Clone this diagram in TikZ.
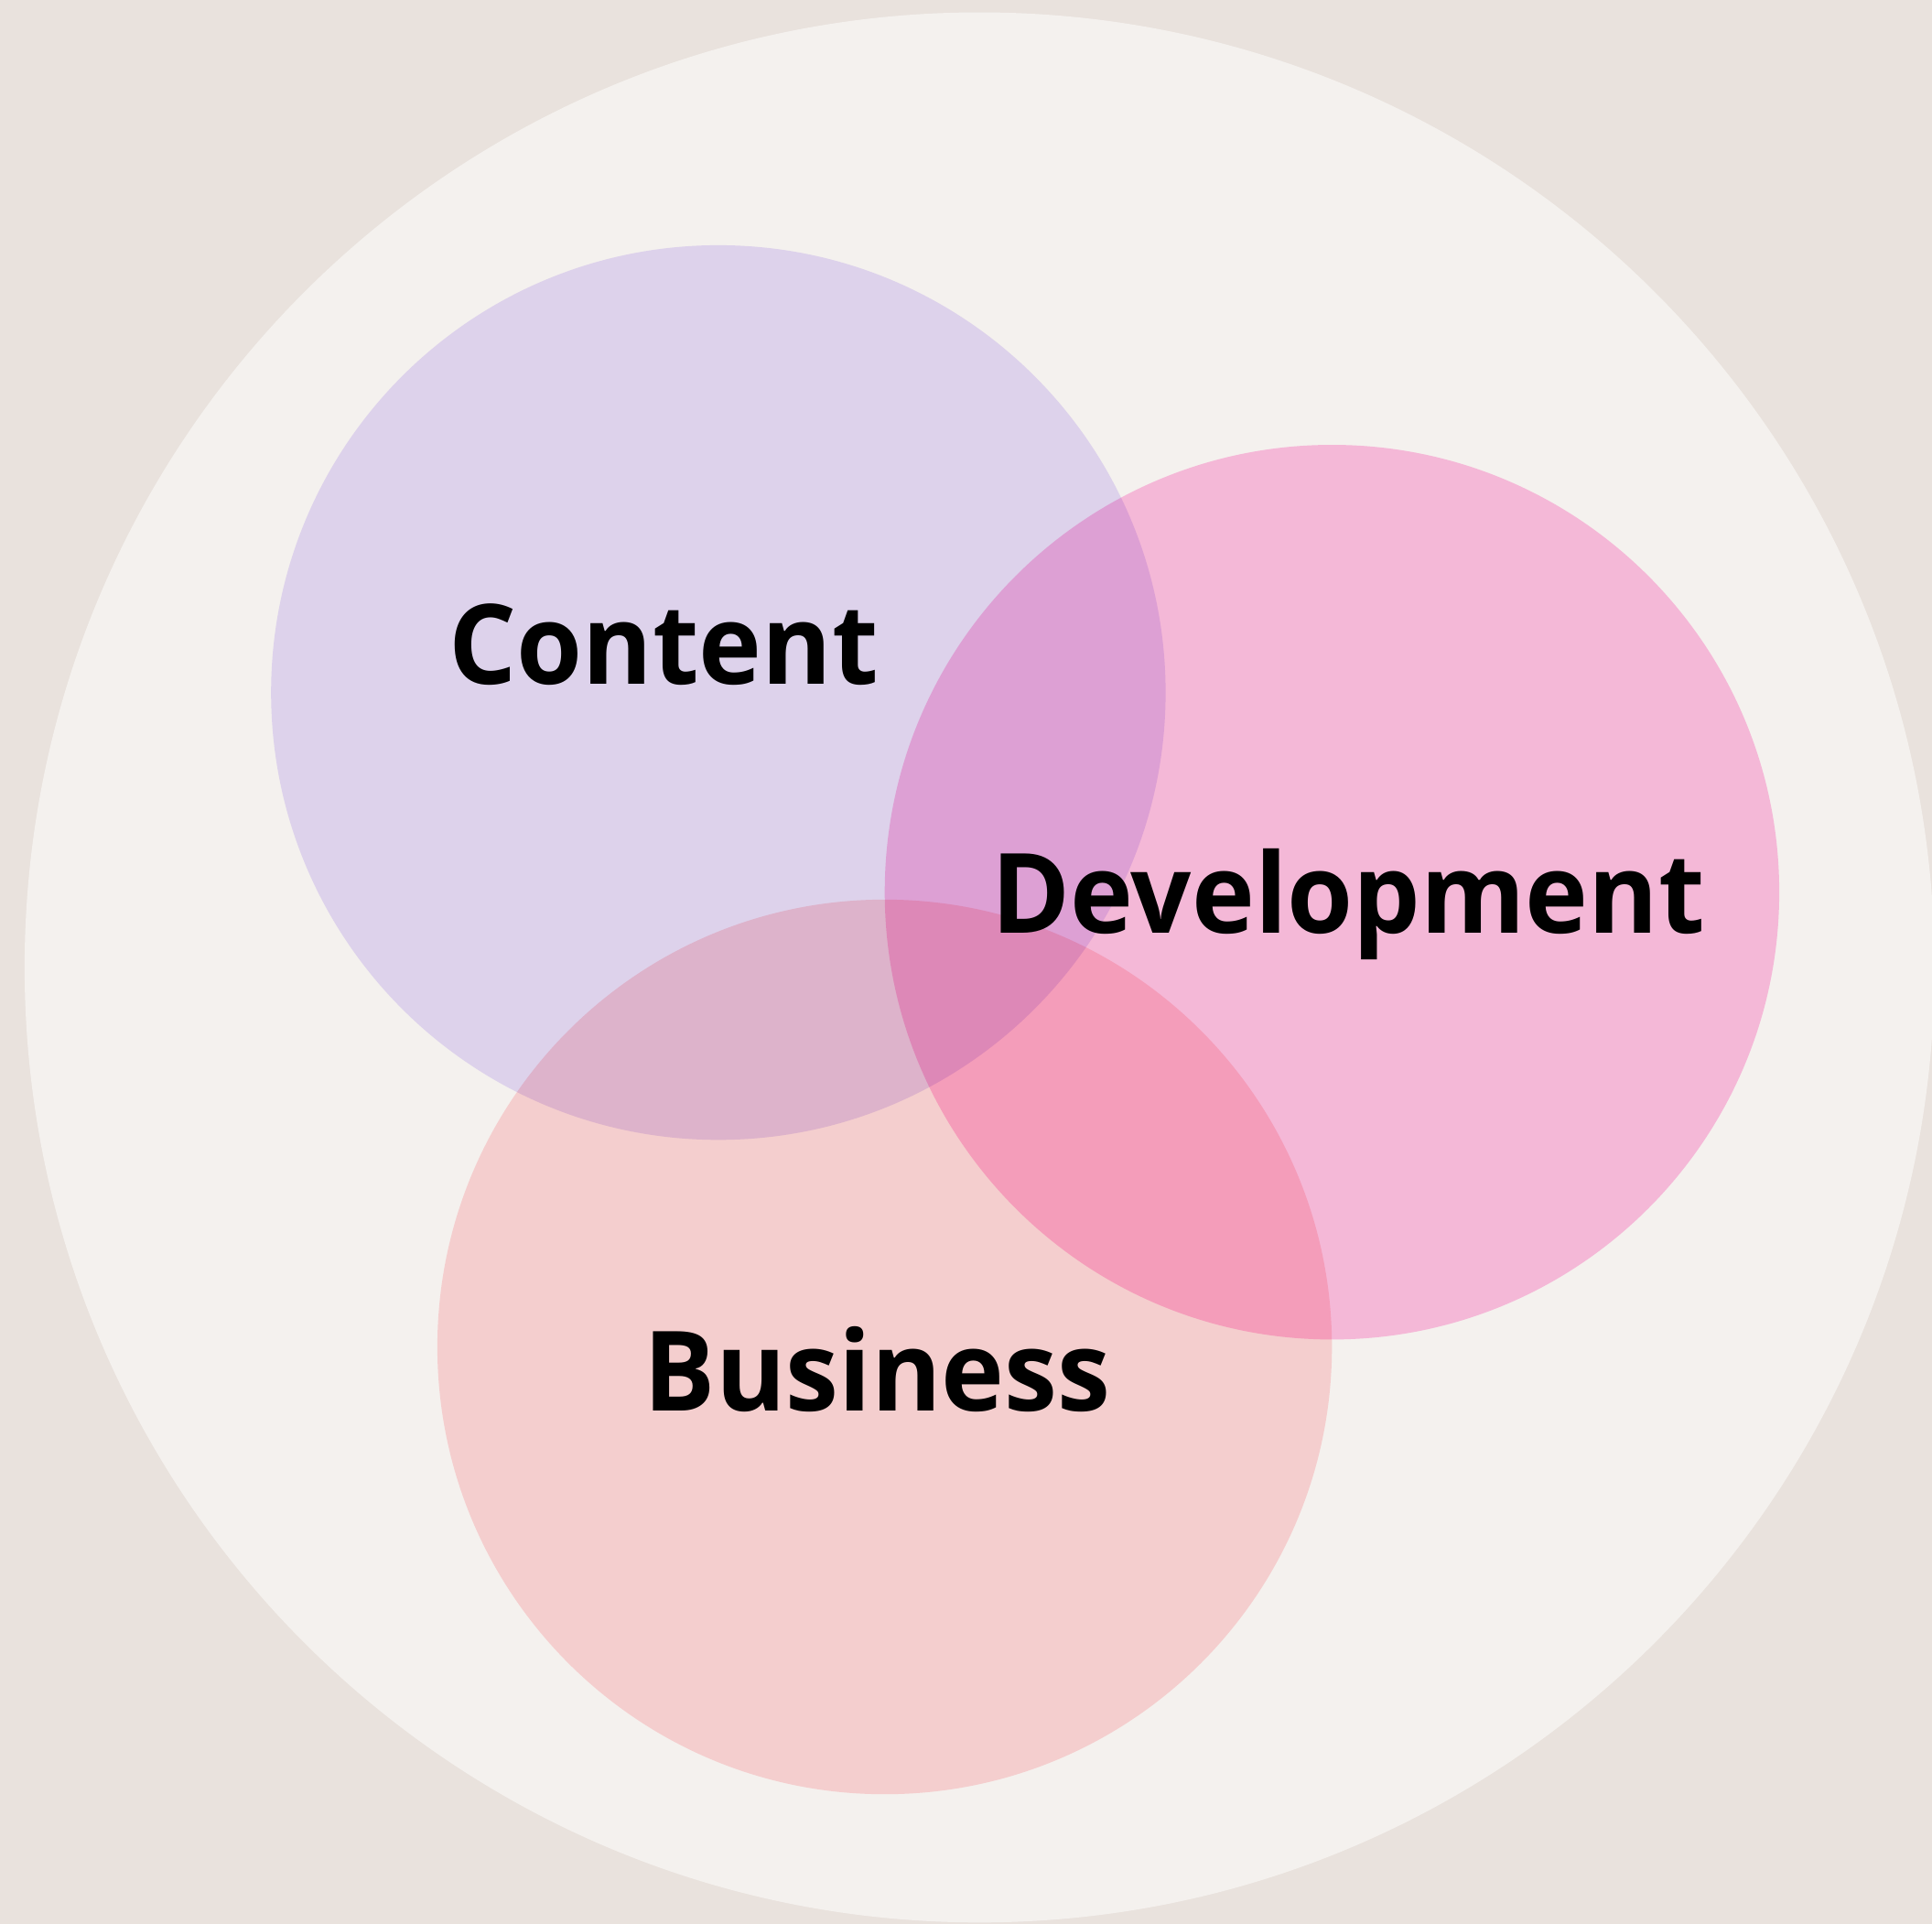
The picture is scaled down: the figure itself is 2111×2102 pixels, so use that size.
\documentclass[tikz,border=0pt]{standalone}
\usepackage{fontspec}
\setmainfont{Open Sans}[FakeStretch=0.96]
\definecolor{bgbeige}{RGB}{233,226,221}
\definecolor{ringcol}{RGB}{244,241,238}
\definecolor{contentcol}{RGB}{231,223,252}
\definecolor{devcol}{RGB}{255,195,231}
\definecolor{buscol}{RGB}{255,218,221}
\begin{document}
\begin{tikzpicture}[x=0.01cm, y=-0.01cm, line join=round,
  lbl/.style={anchor=base, inner sep=0pt, font=\fontsize{34.5}{42}\selectfont\bfseries}]
\def\r{488.7} % radius of the three sets
\fill[bgbeige] (0,0) rectangle (2111,2102);
\useasboundingbox (0,0) rectangle (2111,2102);
\coordinate (ring) at (1070.3,1056.9);
\coordinate (content) at (784.9,756.6);
\coordinate (dev) at (1455.4,974.7);
\coordinate (bus) at (966.6,1471.5);
\fill[ringcol] (ring) circle (1043.4);
\begin{scope}[blend mode=multiply]
\fill[contentcol] (content) circle (\r);
\fill[devcol] (dev) circle (\r);
\fill[buscol] (bus) circle (\r);
\end{scope}
\node[lbl] (contentlbl) at (725,747) {Content};
\node[lbl] (devlbl) at (1473,1019) {Development};
\node[lbl] (buslbl) at (958.6,1541.5) {Business};
\end{tikzpicture}
\end{document}
